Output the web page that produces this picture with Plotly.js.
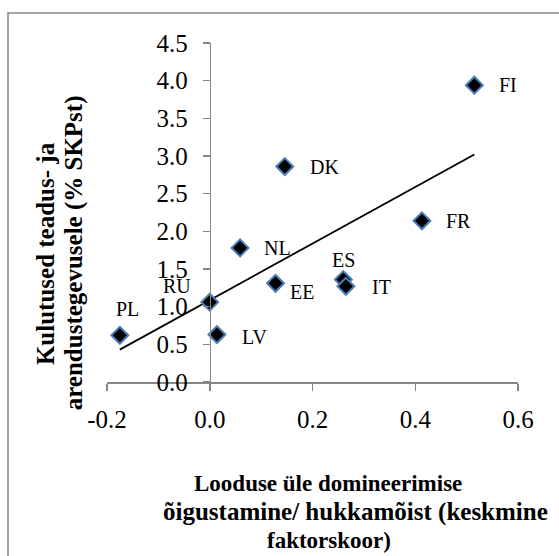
<!DOCTYPE html>
<html>
<head>
<meta charset="utf-8">
<script src="https://cdn.plot.ly/plotly-3.0.1.min.js"></script>
<style>
  html, body { margin: 0; padding: 0; background: #ffffff; }
  #chart { width: 559px; height: 556px; }
</style>
</head>
<body>
<div id="chart"></div>
<script>
// Data
var countries = ['FI', 'DK', 'FR', 'ES', 'IT', 'EE', 'NL', 'RU', 'PL', 'LV'];
var xValues = [0.515, 0.146, 0.413, 0.260, 0.265, 0.128, 0.059, 0.000, -0.175, 0.014];
var yValues = [3.94, 2.86, 2.14, 1.36, 1.27, 1.31, 1.78, 1.06, 0.62, 0.63];
var trendX = [-0.175, 0.515];
var trendY = [0.43, 3.02];
var xTicks = [-0.2, 0.0, 0.2, 0.4, 0.6];
var xTickText = ['-0.2', '0.0', '0.2', '0.4', '0.6'];
var yTicks = [0.0, 0.5, 1.0, 1.5, 2.0, 2.5, 3.0, 3.5, 4.0, 4.5];
var yTickText = ['0.0', '0.5', '1.0', '1.5', '2.0', '2.5', '3.0', '3.5', '4.0', '4.5'];
var xTitleLines = ['Looduse üle domineerimise', 'õigustamine/ hukkamõist (keskmine', 'faktorskoor)'];
var yTitleLines = ['Kulutused teadus- ja', 'arendustegevusele (% SKPst)'];

// Label placement (style only)
var labelStyle = {
  FI: {xanchor: 'left', xshift: 23, yshift: 0},
  DK: {xanchor: 'left', xshift: 23, yshift: 0},
  FR: {xanchor: 'left', xshift: 22, yshift: 0},
  ES: {xanchor: 'center', xshift: 0, yshift: 20},
  IT: {xanchor: 'left', xshift: 24, yshift: -1},
  EE: {xanchor: 'left', xshift: 12, yshift: -9},
  NL: {xanchor: 'left', xshift: 22, yshift: 0},
  RU: {xanchor: 'center', xshift: -33, yshift: 16},
  PL: {xanchor: 'center', xshift: 8, yshift: 26},
  LV: {xanchor: 'left', xshift: 23, yshift: -2}
};
// Title line placement (paper coords) and sizes (style only)
var xTitleStyle = [
  {x: 0.538, y: -0.298, size: 23},
  {x: 0.604, y: -0.383, size: 25},
  {x: 0.540, y: -0.469, size: 23}
];
var yTitleStyle = [
  {x: -0.151, y: 0.380, size: 25},
  {x: -0.080, y: 0.380, size: 25}
];

var serif = "'Liberation Serif', 'Times New Roman', serif";
var axisColor = '#868686';

var trendTrace = {
  x: trendX, y: trendY, type: 'scatter', mode: 'lines',
  line: {color: '#000000', width: 1.8},
  hoverinfo: 'skip', showlegend: false
};
var pointTrace = {
  x: xValues, y: yValues, type: 'scatter', mode: 'markers',
  marker: {symbol: 'diamond', size: 13, color: '#000000', line: {color: '#4a7ebb', width: 2}},
  showlegend: false
};

var annotations = countries.map(function (c, i) {
  var s = labelStyle[c];
  return {
    x: xValues[i], y: yValues[i], xref: 'x', yref: 'y',
    text: c, showarrow: false,
    xanchor: s.xanchor, yanchor: 'middle',
    xshift: s.xshift, yshift: s.yshift,
    font: {family: serif, size: 20, color: '#000000'}
  };
});

xTitleLines.forEach(function (t, i) {
  var s = xTitleStyle[i];
  annotations.push({
    xref: 'paper', yref: 'paper', x: s.x, y: s.y,
    xanchor: 'center', yanchor: 'middle', showarrow: false,
    text: t, font: {family: serif, size: s.size, color: '#000000', weight: 'bold'}
  });
});
yTitleLines.forEach(function (t, i) {
  var s = yTitleStyle[i];
  annotations.push({
    xref: 'paper', yref: 'paper', x: s.x, y: s.y,
    xanchor: 'center', yanchor: 'middle', showarrow: false, textangle: -90,
    text: t, font: {family: serif, size: s.size, color: '#000000', weight: 'bold'}
  });
});

var layout = {
  width: 559, height: 556,
  margin: {l: 107, r: 41, t: 43, b: 174},
  paper_bgcolor: '#ffffff', plot_bgcolor: '#ffffff',
  showlegend: false,
  xaxis: {
    range: [-0.2, 0.6], tickvals: xTicks, ticktext: xTickText,
    showgrid: false, zeroline: false, showline: true, linecolor: axisColor, linewidth: 1.5,
    ticks: 'outside', ticklen: 7, tickcolor: axisColor, tickwidth: 1.5,
    ticklabelstandoff: 7,
    tickfont: {family: serif, size: 25, color: '#000000'}
  },
  yaxis: {
    range: [0, 4.5], tickvals: yTicks, ticktext: yTickText,
    anchor: 'free', position: 0.25,
    showgrid: false, zeroline: false, showline: true, linecolor: axisColor, linewidth: 1.5,
    ticks: 'outside', ticklen: 7, tickcolor: axisColor, tickwidth: 1.5,
    ticklabelstandoff: 10,
    tickfont: {family: serif, size: 25, color: '#000000'}
  },
  annotations: annotations,
  shapes: [{
    type: 'rect', xref: 'paper', yref: 'paper', layer: 'below',
    x0: -0.2409, x1: 2, y0: -2, y1: 1.0885,
    line: {color: axisColor, width: 1.5}, fillcolor: 'rgba(0,0,0,0)'
  }]
};

Plotly.newPlot('chart', [trendTrace, pointTrace], layout, {displayModeBar: false, staticPlot: true});
</script>
</body>
</html>
